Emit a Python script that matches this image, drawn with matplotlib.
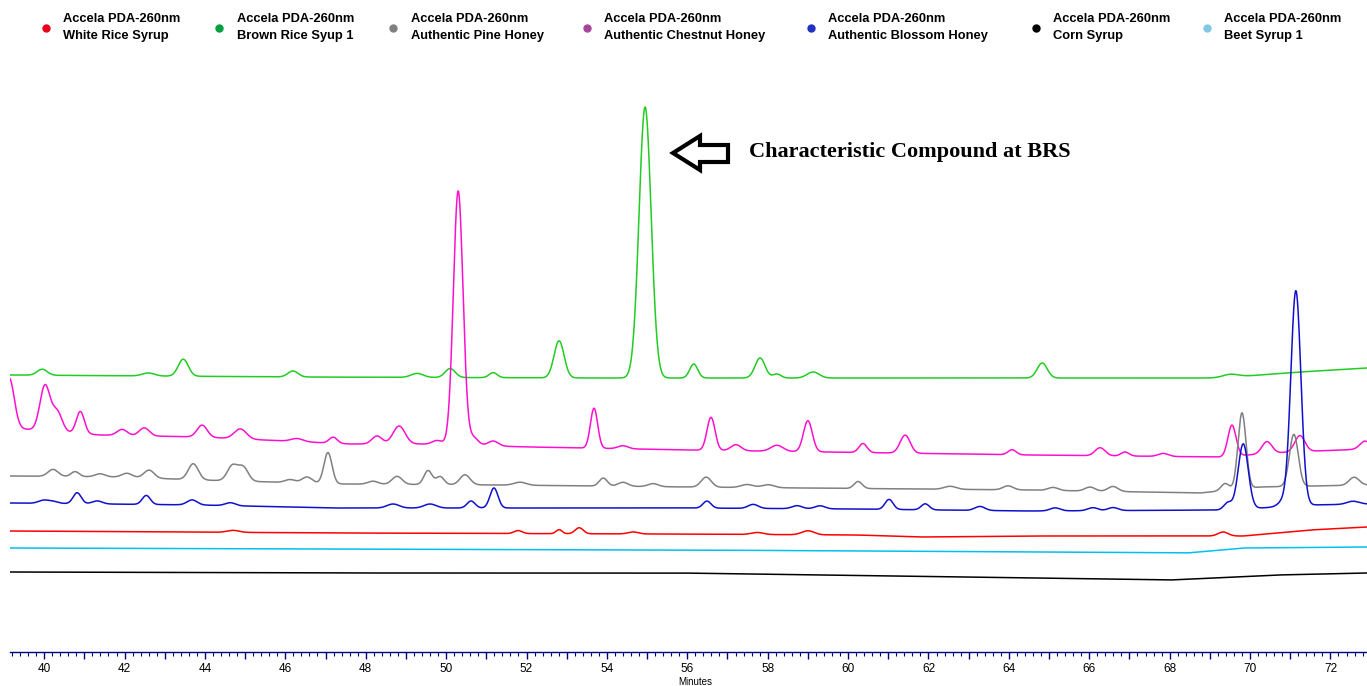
import numpy as np
import matplotlib
matplotlib.use('Agg')
import matplotlib.pyplot as plt
from matplotlib.patches import Polygon
from matplotlib.ticker import MultipleLocator, FuncFormatter

# Series names (legend order) and colours
prefix = 'Accela PDA-260nm'
names = ['White Rice Syrup', 'Brown Rice Syup 1', 'Authentic Pine Honey',
         'Authentic Chestnut Honey', 'Authentic Blossom Honey', 'Corn Syrup', 'Beet Syrup 1']
dot_colors = ['#e8001c', '#00a040', '#808080', '#a8449c', '#2030c0', '#000000', '#80c8e8']
line_colors = ['#ff0000', '#22cc22', '#808080', '#ff10d0', '#1010cc', '#000000', '#00c0f0']

# Baselines: (minutes, level) anchors
base_red = [(39.15, 121), (47.36, 119), (55.40, 118), (60.22, 117), (61.79, 115),
            (64.53, 116), (69.83, 116), (71.49, 122), (72.91, 125)]
base_green = [(39.15, 277), (46.37, 275), (53.83, 274), (63.78, 274), (69.25, 274),
              (71.24, 280), (72.91, 284)]
base_gray = [(39.15, 176), (41.89, 175), (43.88, 172), (47.44, 168), (51.34, 167),
             (56.07, 165), (64.53, 162), (68.76, 159), (70.25, 165), (72.91, 167)]
base_magenta = [(39.15, 224), (41.39, 217), (43.88, 215), (47.61, 208), (49.35, 208),
                (52.09, 205), (56.07, 202), (64.53, 197), (69.25, 195), (70.99, 200),
                (72.91, 203)]
base_blue = [(39.15, 149), (43.88, 147), (47.19, 144), (56.07, 144), (60.12, 143),
             (64.53, 141), (69.25, 142), (70.25, 144), (71.49, 147), (72.91, 148)]
base_black = [(39.15, 80), (47.36, 79), (55.82, 79), (64.53, 74), (68.01, 72),
              (70.67, 77), (72.91, 79)]
base_cyan = [(39.15, 104), (47.36, 103), (56.07, 102), (64.53, 100), (68.43, 99),
             (69.83, 104), (72.91, 105)]

# Peaks: (retention time min, height, sigma min)
peaks_red = [(44.70, 2, 0.15), (51.79, 3, 0.10), (52.81, 4, 0.075), (53.31, 6, 0.10),
             (54.65, 2, 0.125), (57.74, 2, 0.15), (59.00, 4, 0.15), (69.33, 4, 0.125)]
peaks_green = [(39.95, 6, 0.125), (42.59, 3, 0.15), (43.46, 17, 0.125), (46.19, 6, 0.125),
               (49.28, 4, 0.15), (50.10, 9, 0.125), (51.17, 5, 0.10), (52.81, 37, 0.125),
               (54.95, 271, 0.15), (56.16, 14, 0.10), (57.81, 20, 0.125), (58.23, 4, 0.10),
               (59.13, 6, 0.15), (64.83, 15, 0.125), (69.50, 3, 0.20)]
peaks_gray = [(40.22, 7, 0.125), (40.77, 5, 0.10), (41.39, 3, 0.125), (42.06, 4, 0.125),
              (42.61, 8, 0.125), (43.71, 16, 0.125), (44.68, 15, 0.125), (44.95, 14, 0.125),
              (46.12, 3, 0.125), (46.54, 6, 0.125), (47.06, 31, 0.10), (48.18, 3, 0.125),
              (48.78, 8, 0.125), (49.55, 14, 0.10), (49.85, 8, 0.10), (50.47, 10, 0.125),
              (51.84, 3, 0.15), (53.91, 8, 0.10), (54.40, 4, 0.125), (55.15, 3, 0.125),
              (56.47, 10, 0.125), (57.49, 3, 0.15), (58.01, 3, 0.15), (60.25, 7, 0.10),
              (62.54, 3, 0.15), (63.98, 4, 0.125), (65.10, 3, 0.125), (66.02, 4, 0.125),
              (66.59, 5, 0.125), (69.38, 7, 0.10), (69.80, 76, 0.10), (71.09, 52, 0.11),
              (72.59, 8, 0.125)]
peaks_magenta = [(39.13, 50, 0.125), (40.02, 45, 0.125), (40.32, 20, 0.125), (40.90, 22, 0.10),
                 (41.94, 6, 0.125), (42.49, 8, 0.125), (43.93, 12, 0.125), (44.88, 10, 0.15),
                 (46.29, 3, 0.15), (47.19, 6, 0.10), (48.28, 8, 0.125), (48.83, 18, 0.15),
                 (49.78, 4, 0.125), (50.30, 254, 0.12), (50.67, 8, 0.125), (51.17, 5, 0.125),
                 (53.68, 40, 0.09), (54.40, 3, 0.125), (56.59, 33, 0.10), (57.21, 6, 0.125),
                 (58.23, 6, 0.15), (59.00, 31, 0.11), (60.37, 9, 0.10), (61.42, 18, 0.125),
                 (64.08, 5, 0.10), (66.27, 8, 0.125), (66.89, 4, 0.10), (67.84, 3, 0.125),
                 (69.55, 31, 0.10), (70.42, 12, 0.125), (71.24, 16, 0.125), (72.86, 8, 0.125)]
peaks_blue = [(39.98, 3, 0.125), (40.22, 2, 0.125), (40.82, 11, 0.10), (41.32, 3, 0.125),
              (42.54, 9, 0.10), (43.68, 5, 0.125), (44.63, 3, 0.125), (48.68, 4, 0.15),
              (49.60, 4, 0.15), (50.62, 7, 0.10), (51.19, 20, 0.10), (56.49, 7, 0.10),
              (57.64, 4, 0.125), (58.73, 3, 0.125), (59.30, 3, 0.125), (61.02, 10, 0.10),
              (61.92, 6, 0.10), (63.28, 4, 0.125), (65.15, 3, 0.125), (66.09, 3, 0.125),
              (66.59, 3, 0.125), (69.45, 7, 0.10), (69.83, 65, 0.125), (70.82, 5, 0.125),
              (71.14, 215, 0.125), (72.56, 3, 0.15)]
peaks_black = []
peaks_cyan = []

traces = [(base_red, peaks_red), (base_green, peaks_green), (base_gray, peaks_gray),
          (base_magenta, peaks_magenta), (base_blue, peaks_blue),
          (base_black, peaks_black), (base_cyan, peaks_cyan)]

t_min, t_max = 39.15, 72.91
t = np.linspace(t_min, t_max, 4000)


def build_trace(base, peaks):
    bt = [p[0] for p in base]
    bv = [p[1] for p in base]
    y = np.interp(t, bt, bv)
    for rt, h, s in peaks:
        y = y + h * np.exp(-0.5 * ((t - rt) / s) ** 2)
    return y


W, H = 1367, 686
fig = plt.figure(figsize=(W / 100, H / 100), dpi=100)
ax = fig.add_axes([10 / W, 34 / H, 1357 / W, 592 / H])

# draw order: blue on top of gray/magenta like the reference
order = [0, 6, 5, 1, 3, 2, 4]
for i in order:
    base, peaks = traces[i]
    ax.plot(t, build_trace(base, peaks), color=line_colors[i], lw=1.1)

ax.set_xlim(t_min, t_max)
ax.set_ylim(0, 592)
for s in ['top', 'right', 'left']:
    ax.spines[s].set_visible(False)
ax.spines['bottom'].set_color('#000080')
ax.spines['bottom'].set_linewidth(1.0)
ax.set_yticks([])
ax.xaxis.set_major_locator(MultipleLocator(1))
ax.xaxis.set_minor_locator(MultipleLocator(0.2))
ax.xaxis.set_major_formatter(FuncFormatter(lambda v, p: '%d' % v if int(round(v)) % 2 == 0 else ''))
ax.tick_params(axis='x', which='major', length=5, width=1, color='#000080', pad=3,
               labelsize=8.5)
ax.tick_params(axis='x', which='minor', length=3, width=0.8, color='#000080')
for lab in ax.get_xticklabels():
    lab.set_family(['Liberation Sans Narrow', 'Liberation Sans', 'DejaVu Sans'])

fig.text(695 / W, 1 - 682 / H, 'Minutes', fontsize=7, ha='center', va='center',
         family=['Liberation Sans Narrow', 'Liberation Sans', 'DejaVu Sans'])

# legend row
dot_x = [46, 219, 393, 587, 811, 1036, 1207]
txt_x = [63, 237, 411, 604, 828, 1053, 1224]
for i, nm in enumerate(names):
    fig.lines.append(plt.Line2D([dot_x[i] / W], [1 - 28 / H], marker='o', ms=5,
                                color=dot_colors[i], transform=fig.transFigure))
    fig.text(txt_x[i] / W, 1 - 19 / H, prefix, fontsize=9.3, fontweight='bold',
             va='center', ha='left', family='Liberation Sans')
    fig.text(txt_x[i] / W, 1 - 36 / H, nm, fontsize=9.3, fontweight='bold',
             va='center', ha='left', family='Liberation Sans')

# hollow arrow + annotation
arrow_px = [(673, 153), (700, 136), (700, 145), (728, 145), (728, 162), (700, 162), (700, 170)]
arrow = Polygon([(x / W, 1 - y / H) for x, y in arrow_px], closed=True, fill=False,
                edgecolor='black', lw=3, joinstyle='miter', transform=fig.transFigure)
fig.patches.append(arrow)
fig.text(749 / W, 1 - 152 / H, 'Characteristic Compound at BRS', fontsize=16,
         fontweight='bold', family='Liberation Serif', va='center', ha='left')

fig.savefig('out.png', dpi=100)
